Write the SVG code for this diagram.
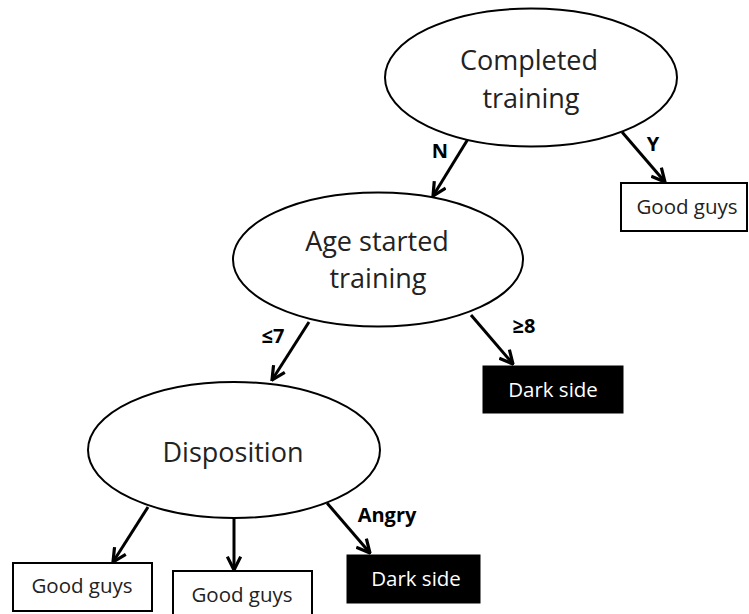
<svg xmlns="http://www.w3.org/2000/svg" width="749" height="614" viewBox="0 0 749 614">
<defs>
<marker id="arr" markerUnits="userSpaceOnUse" markerWidth="16" markerHeight="16" refX="11" refY="6" orient="auto" viewBox="0 0 12 12">
<path d="M1,1 L11,6 L1,11" fill="none" stroke="#000" stroke-width="2.4"/>
</marker>
<style>
.ell{fill:#fff;stroke:#000;stroke-width:2}
.box{fill:#fff;stroke:#000;stroke-width:2}
.dark{fill:#000;stroke:#000;stroke-width:1}
.nt{font-family:"Open Sans","DejaVu Sans",sans-serif;font-size:27px;fill:#222;text-anchor:middle}
.bt{font-family:"Open Sans","DejaVu Sans",sans-serif;font-size:20.5px;fill:#222;text-anchor:middle}
.dt{font-family:"Open Sans","DejaVu Sans",sans-serif;font-size:20.5px;fill:#fff;text-anchor:middle}
.el{font-family:"Open Sans","DejaVu Sans",sans-serif;font-size:20px;font-weight:bold;fill:#000;text-anchor:middle}
.con{stroke:#000;stroke-width:3;fill:none;marker-end:url(#arr)}
</style>
</defs>
<rect width="749" height="614" fill="#fff"/>
<g id="connectors">
<line class="con" x1="468" y1="139" x2="433" y2="196"/>
<line class="con" x1="622" y1="132" x2="665" y2="182"/>
<line class="con" x1="309" y1="322" x2="272" y2="380"/>
<line class="con" x1="471" y1="315" x2="513" y2="364"/>
<line class="con" x1="148" y1="507" x2="113" y2="562"/>
<line class="con" x1="234" y1="518" x2="234" y2="570"/>
<line class="con" x1="327" y1="503" x2="370" y2="553"/>
<text class="el" x="440" y="158">N</text>
<text class="el" x="653" y="151">Y</text>
<text class="el" x="273" y="343">≤7</text>
<text class="el" x="524" y="333">≥8</text>
<text class="el" x="387" y="522">Angry</text>
</g>
<g id="completed">
<ellipse class="ell" cx="531" cy="77.5" rx="146" ry="69"/>
<text class="nt" x="529" y="70">Completed</text>
<text class="nt" x="531" y="108">training</text>
</g>
<g id="good1">
<rect class="box" x="621" y="183" width="126" height="48"/>
<text class="bt" x="687" y="214">Good guys</text>
</g>
<g id="age">
<ellipse class="ell" cx="378" cy="259.5" rx="145" ry="67"/>
<text class="nt" x="377" y="251">Age started</text>
<text class="nt" x="378" y="288">training</text>
</g>
<g id="dark1">
<rect class="dark" x="483" y="366" width="140" height="47"/>
<text class="dt" x="553" y="397">Dark side</text>
</g>
<g id="disposition">
<ellipse class="ell" cx="234" cy="450" rx="146" ry="68"/>
<text class="nt" x="233" y="462">Disposition</text>
</g>
<g id="good2">
<rect class="box" x="13" y="563" width="139" height="48"/>
<text class="bt" x="82" y="593">Good guys</text>
</g>
<g id="good3">
<rect class="box" x="173" y="571" width="139" height="50"/>
<text class="bt" x="242" y="602">Good guys</text>
</g>
<g id="dark2">
<rect class="dark" x="347" y="555" width="133" height="48"/>
<text class="dt" x="416" y="586">Dark side</text>
</g>
</svg>
